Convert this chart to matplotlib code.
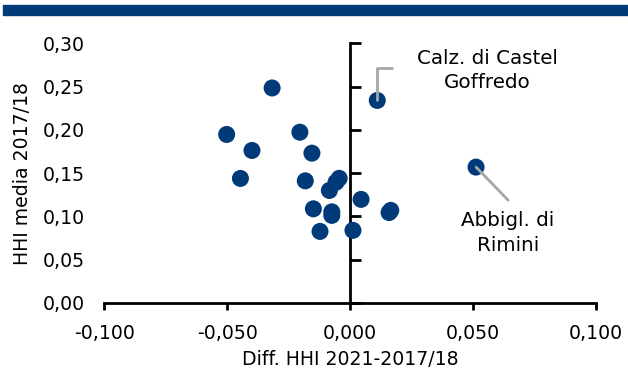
import matplotlib
matplotlib.use("Agg")
import matplotlib.pyplot as plt
from matplotlib.patches import Rectangle

# Data
diff_hhi = [-0.0317, -0.0502, -0.0399, -0.0446, -0.0204, -0.0155, -0.0182,
            -0.0057, -0.0044, -0.0084, -0.0149, -0.0074, -0.0074, -0.0122,
            0.0012, 0.0045, 0.0159, 0.0166, 0.0111, 0.0513]
hhi_media = [0.2484, 0.1947, 0.1762, 0.1439, 0.1973, 0.1731, 0.1411,
             0.1395, 0.1440, 0.1300, 0.1088, 0.1053, 0.1012, 0.0827,
             0.0839, 0.1197, 0.1045, 0.1070, 0.2340, 0.1570]
label_calz = "Calz. di Castel\nGoffredo"
label_abb = "Abbigl. di\nRimini"
calz_idx = 18
abb_idx = 19
x_ticks = [-0.100, -0.050, 0.000, 0.050, 0.100]
y_ticks = [0.00, 0.05, 0.10, 0.15, 0.20, 0.25, 0.30]

navy = "#003A78"
gray = "#A6A6A6"
font = "DejaVu Sans"
fs = 13.6
fs_ann = 14.3

fig = plt.figure(figsize=(6.28, 3.72), dpi=100)
fig.patches.append(Rectangle((3 / 628, 1 - 15 / 372), 1, 10 / 372,
                             transform=fig.transFigure, color=navy, zorder=0))

ax = fig.add_axes([104.3 / 628, 1 - 303 / 372, (595.7 - 104.3) / 628, (303 - 43.3) / 372])
ax.set_xlim(-0.1, 0.1)
ax.set_ylim(0, 0.3)

ax.scatter(diff_hhi, hhi_media, s=150, color=navy, edgecolors="none", zorder=3, clip_on=False)

# spines
for s in ["top", "right", "left"]:
    ax.spines[s].set_visible(False)
ax.spines["bottom"].set_linewidth(2)
ax.set_xticks(x_ticks)
ax.set_xticklabels([f"{v:.3f}".replace(".", ",") for v in x_ticks], fontsize=fs, family=font)
ax.tick_params(axis="x", direction="out", length=5, width=2, pad=10)
ax.set_yticks(y_ticks)
ax.set_yticklabels([f"{v:.2f}".replace(".", ",") for v in y_ticks], fontsize=fs, family=font)
ax.tick_params(axis="y", length=0, pad=14)

sec = ax.secondary_yaxis(0.5)
sec.set_yticks(y_ticks)
sec.set_yticklabels([])
sec.tick_params(axis="y", direction="out", length=8, width=2)
for sp in sec.spines.values():
    sp.set_linewidth(2)

ax.set_xlabel("Diff. HHI 2021-2017/18", fontsize=fs, family=font, labelpad=5)
ax.set_ylabel("HHI media 2017/18", fontsize=fs, family=font, labelpad=8)

# annotations
ax.annotate("", xy=(diff_hhi[calz_idx], hhi_media[calz_idx]), xytext=(15, 32),
            textcoords="offset pixels",
            arrowprops=dict(arrowstyle="-", color=gray, lw=2, shrinkA=0, shrinkB=0,
                            connectionstyle="angle,angleA=0,angleB=90,rad=0"), zorder=4)
ax.annotate(label_calz, xy=(diff_hhi[calz_idx], hhi_media[calz_idx]), xytext=(110, 30),
            textcoords="offset pixels", ha="center", va="center", multialignment="center",
            fontsize=fs_ann, family=font, linespacing=1.35)
ax.annotate("", xy=(diff_hhi[abb_idx], hhi_media[abb_idx]), xytext=(32, -33),
            textcoords="offset pixels",
            arrowprops=dict(arrowstyle="-", color=gray, lw=2, shrinkA=0, shrinkB=0), zorder=4)
ax.annotate(label_abb, xy=(diff_hhi[abb_idx], hhi_media[abb_idx]), xytext=(32, -66),
            textcoords="offset pixels", ha="center", va="center", multialignment="center",
            fontsize=fs_ann, family=font, linespacing=1.35)

fig.savefig("out.png", dpi=100)
